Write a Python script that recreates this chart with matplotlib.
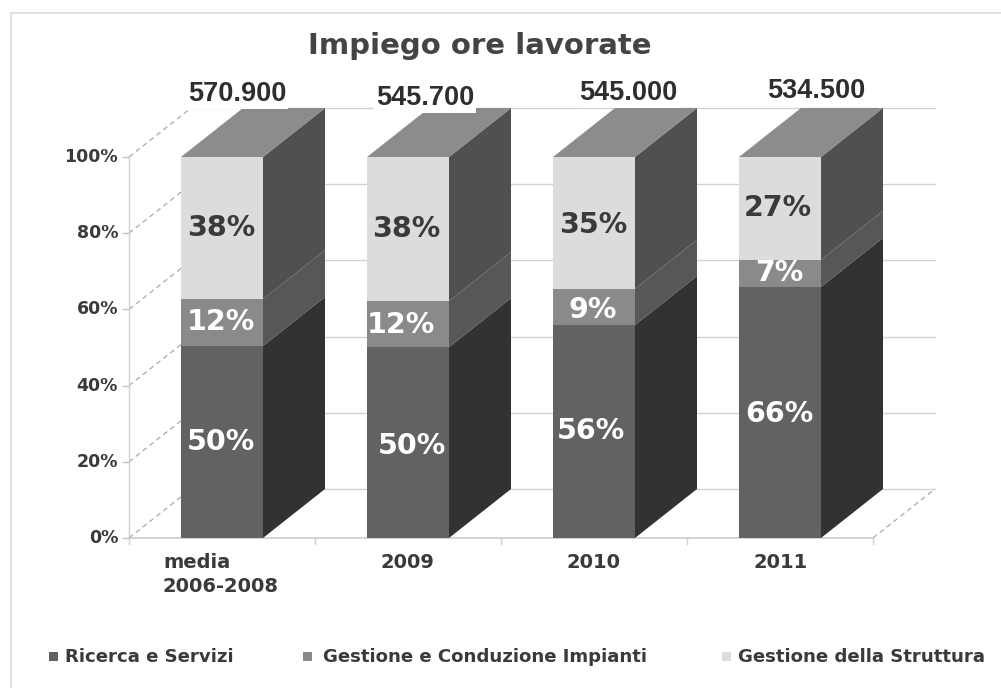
import numpy as np
import matplotlib
matplotlib.use('Agg')
import matplotlib.pyplot as plt
from matplotlib.lines import Line2D
from matplotlib.patches import Rectangle

W, H = 1001, 688

# Data
categories = ['media\n2006-2008', '2009', '2010', '2011']
totals = ['570.900', '545.700', '545.000', '534.500']
ricerca = [50.4, 50.1, 55.9, 65.9]
gestione = [12.3, 12.1, 9.5, 7.1]
struttura = [37.3, 37.8, 34.6, 27.0]
ricerca_lab = ['50%', '50%', '56%', '66%']
gestione_lab = ['12%', '12%', '9%', '7%']
struttura_lab = ['38%', '38%', '35%', '27%']
series_names = ['Ricerca e Servizi', 'Gestione e Conduzione Impianti', 'Gestione della Struttura']
y_ticks = [0, 20, 40, 60, 80, 100]

front_col = ['#626262', '#8a8a8a', '#dcdcdc']
side_col = ['#323232', '#575757', '#505050']
top_col = '#8c8c8c'
grid_col = '#d2d2d2'
text_col = '#3a3a3a'

# 3d look: depth offset in data units
dx = 62 / 186
dy = 49 / 381 * 100
bar_w = 82 / 186

fig = plt.figure(figsize=(W / 100, H / 100), dpi=100)
ax = fig.add_axes([129 / W, 1 - 538 / H, 744 / W, 381 / H])
ax.set_xlim(-0.5, 3.5)
ax.set_ylim(0, 100)
ax.axis('off')


def px_text(px, py, s, **kw):
    fig.text(px / W, 1 - py / H, s, va='center', **kw)


# chart frame, only left and top edges show
fig.add_artist(Line2D([11 / W, 11 / W, 1], [0, 1 - 13 / H, 1 - 13 / H], transform=fig.transFigure,
                      color='#dcdcdc', lw=1.2))

# walls and gridlines
for t in y_ticks:
    ax.plot([-0.5, -0.5 + dx], [t, t + dy], color='#a8a8a8', lw=0.9, ls=(0, (4, 3)), clip_on=False)
    ax.plot([-0.5 + dx, 3.5 + dx], [t + dy, t + dy], color=grid_col, lw=1, clip_on=False)
    ax.plot([-0.53, -0.5], [t, t], color='#c0c0c0', lw=1, clip_on=False)
    px_text(118, 538 - t * 3.81, f'{t}%', ha='right', fontsize=12.5, fontweight='bold', color=text_col)
ax.plot([3.5, 3.5 + dx], [0, dy], color='#a8a8a8', lw=0.9, ls=(0, (4, 3)), clip_on=False)
ax.plot([-0.5, -0.5], [0, 100], color='#d0d0d0', lw=1, clip_on=False)
ax.plot([-0.5, 3.5], [0, 0], color='#cccccc', lw=1.2, clip_on=False)
for i in range(5):
    ax.plot([i - 0.5, i - 0.5], [0, -1.5], color='#d0d0d0', lw=1, clip_on=False)

# bars
stack = np.array([ricerca, gestione, struttura])
for i in range(len(categories)):
    l, r = i - bar_w / 2, i + bar_w / 2
    bottom = 0
    for j in range(3):
        top = bottom + stack[j, i]
        ax.fill([r, r + dx, r + dx, r], [bottom, bottom + dy, top + dy, top], color=side_col[j], lw=0, zorder=3, clip_on=False)
        ax.bar(i, stack[j, i], bar_w, bottom=bottom, color=front_col[j], lw=0, zorder=4, clip_on=False)
        bottom = top
    ax.fill([l, l + dx, r + dx, r], [bottom, bottom + dy, bottom + dy, bottom], color=top_col, lw=0, zorder=3, clip_on=False)

# labels inside the bars
label_pos = [
    [(221, 442), (221, 322), (221, 228)],
    [(412, 446), (401, 325), (406, 229)],
    [(591, 431), (593, 310), (593, 225)],
    [(779, 414), (779, 273), (778, 208)],
]
labs = [ricerca_lab, gestione_lab, struttura_lab]
lab_col = ['white', 'white', text_col]
for i in range(4):
    for j in range(3):
        px, py = label_pos[i][j]
        px_text(px, py, labs[j][i], ha='center', fontsize=20.5, fontweight='bold', color=lab_col[j], zorder=6)

# totals above the bars, white box hides the gridline
total_pos = [(237, 94), (425, 98), (628, 93), (816, 91)]
for s, (px, py) in zip(totals, total_pos):
    px_text(px, py, s, ha='center', fontsize=19.5, fontweight='bold', color='#2e2e2e',
            family='Liberation Sans', bbox=dict(fc='white', ec='none', pad=1.5), zorder=2)

px_text(480, 46, 'Impiego ore lavorate', ha='center', fontsize=21, fontweight='bold', color='#444444')

# category labels
px_text(163, 563, 'media', ha='left', fontsize=14, fontweight='bold', color=text_col)
px_text(163, 587, '2006-2008', ha='left', fontsize=14, fontweight='bold', color=text_col)
for cat, px in zip(categories[1:], [407, 594, 781]):
    px_text(px, 563, cat, ha='center', fontsize=14, fontweight='bold', color=text_col)

# legend
legend_x = [(49, 65), (303, 323), (722, 738)]
for (sx, tx), name, col in zip(legend_x, series_names, front_col):
    fig.add_artist(Rectangle((sx / W, 1 - 661 / H), 9 / W, 9 / H, transform=fig.transFigure, fc=col, ec='none'))
    px_text(tx, 657, name, ha='left', fontsize=13.1, fontweight='bold', color=text_col)

fig.savefig('out.png', dpi=100, facecolor='white')
